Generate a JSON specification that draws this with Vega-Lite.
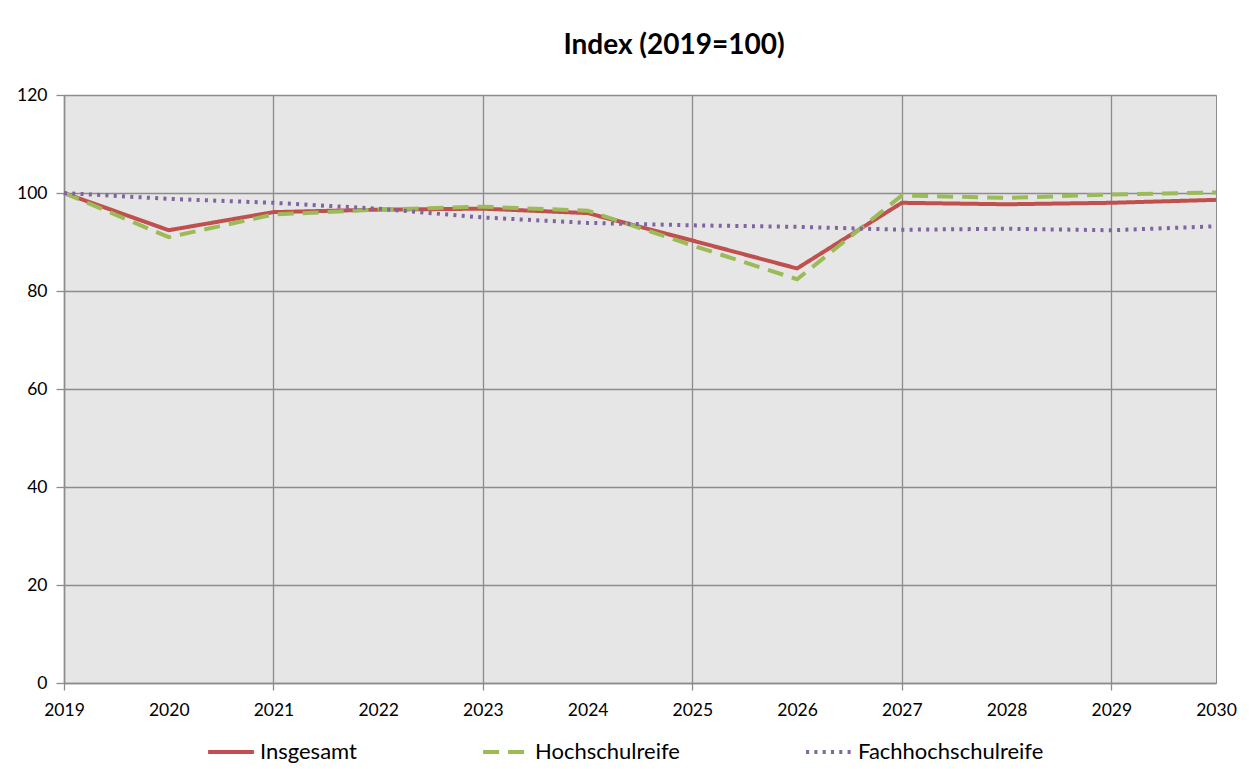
{
  "$schema": "https://vega.github.io/schema/vega-lite/v6.json",
  "width": 1152,
  "height": 588,
  "padding": {"left": 16, "top": 32, "right": 30, "bottom": 0},
  "background": "white",
  "title": {"text": "Index (2019=100)", "fontSize": 28, "font": "Lato", "fontWeight": "bold", "color": "#000000", "offset": 26, "dx": 34},
  "config": {
    "view": {"fill": "#e6e6e6", "stroke": "#8c8c8c", "strokeWidth": 1},
    "axis": {"labelFont": "Lato", "labelFontSize": 17.5, "labelColor": "#000000", "gridColor": "#8c8c8c", "gridWidth": 1.3, "domainColor": "#8c8c8c", "domainWidth": 1.5, "tickColor": "#8c8c8c", "tickWidth": 1.3, "title": null},
    "legend": {"labelFont": "Lato", "labelFontSize": 22, "labelColor": "#000000", "labelLimit": 400}
  },
  "data": {"values": [
    {"year": 2019, "series": "Insgesamt", "value": 100},
    {"year": 2020, "series": "Insgesamt", "value": 92.4},
    {"year": 2021, "series": "Insgesamt", "value": 96.1},
    {"year": 2022, "series": "Insgesamt", "value": 96.6},
    {"year": 2023, "series": "Insgesamt", "value": 96.8},
    {"year": 2024, "series": "Insgesamt", "value": 95.9},
    {"year": 2025, "series": "Insgesamt", "value": 90.3},
    {"year": 2026, "series": "Insgesamt", "value": 84.6},
    {"year": 2027, "series": "Insgesamt", "value": 98.0},
    {"year": 2028, "series": "Insgesamt", "value": 97.7},
    {"year": 2029, "series": "Insgesamt", "value": 98.0},
    {"year": 2030, "series": "Insgesamt", "value": 98.6},
    {"year": 2019, "series": "Hochschulreife", "value": 100},
    {"year": 2020, "series": "Hochschulreife", "value": 91.0},
    {"year": 2021, "series": "Hochschulreife", "value": 95.6},
    {"year": 2022, "series": "Hochschulreife", "value": 96.6},
    {"year": 2023, "series": "Hochschulreife", "value": 97.2},
    {"year": 2024, "series": "Hochschulreife", "value": 96.4},
    {"year": 2025, "series": "Hochschulreife", "value": 89.3},
    {"year": 2026, "series": "Hochschulreife", "value": 82.4},
    {"year": 2027, "series": "Hochschulreife", "value": 99.5},
    {"year": 2028, "series": "Hochschulreife", "value": 99.0},
    {"year": 2029, "series": "Hochschulreife", "value": 99.7},
    {"year": 2030, "series": "Hochschulreife", "value": 100.1},
    {"year": 2019, "series": "Fachhochschulreife", "value": 100},
    {"year": 2020, "series": "Fachhochschulreife", "value": 98.8},
    {"year": 2021, "series": "Fachhochschulreife", "value": 98.0},
    {"year": 2022, "series": "Fachhochschulreife", "value": 96.8},
    {"year": 2023, "series": "Fachhochschulreife", "value": 95.0},
    {"year": 2024, "series": "Fachhochschulreife", "value": 93.9},
    {"year": 2025, "series": "Fachhochschulreife", "value": 93.4},
    {"year": 2026, "series": "Fachhochschulreife", "value": 93.1},
    {"year": 2027, "series": "Fachhochschulreife", "value": 92.5},
    {"year": 2028, "series": "Fachhochschulreife", "value": 92.7},
    {"year": 2029, "series": "Fachhochschulreife", "value": 92.4},
    {"year": 2030, "series": "Fachhochschulreife", "value": 93.2}
  ]},
  "mark": {"type": "line", "strokeWidth": 4, "strokeCap": "butt"},
  "encoding": {
    "x": {
      "field": "year", "type": "quantitative",
      "scale": {"domain": [2019, 2030], "nice": false, "zero": false},
      "axis": {
        "values": [2019, 2020, 2021, 2022, 2023, 2024, 2025, 2026, 2027, 2028, 2029, 2030],
        "format": "d", "labelPadding": 11, "tickSize": 7, "labelFlush": false, "labelOverlap": false,
        "gridOpacity": {"condition": {"test": "datum.value % 2 == 1", "value": 1}, "value": 0},
        "tickOpacity": {"condition": {"test": "datum.value % 2 == 1", "value": 1}, "value": 0}
      }
    },
    "y": {
      "field": "value", "type": "quantitative",
      "scale": {"domain": [0, 120], "nice": false},
      "axis": {"values": [0, 20, 40, 60, 80, 100, 120], "tickSize": 8, "labelPadding": 9}
    },
    "color": {
      "field": "series", "type": "nominal",
      "scale": {"domain": ["Insgesamt", "Hochschulreife", "Fachhochschulreife"], "range": ["#c0504d", "#9bbb59", "#8064a2"]},
      "legend": {"orient": "none", "legendX": 142, "legendY": 632, "direction": "horizontal", "title": null, "symbolType": "stroke", "symbolSize": 2100, "symbolStrokeWidth": 4, "columnPadding": 118, "labelOffset": 4}
    },
    "strokeDash": {
      "field": "series", "type": "nominal",
      "scale": {"domain": ["Insgesamt", "Hochschulreife", "Fachhochschulreife"], "range": [[1, 0], [16, 9], [3, 5.3]]},
      "legend": null
    }
  }
}
